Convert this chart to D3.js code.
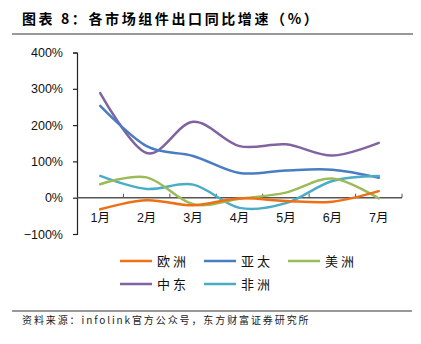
<!DOCTYPE html>
<html><head><meta charset="utf-8">
<script src="https://cdn.jsdelivr.net/npm/d3@7"></script>
<style>body{margin:0;background:#fff}svg{display:block}</style>
</head><body>
<script>
const months = ["1月","2月","3月","4月","5月","6月","7月"];
const seriesNames = ["欧洲","亚太","美洲","中东","非洲"];
const europe = [-32, -7, -21, -2, -9, -11, 18];
const asiaPac = [253, 142, 115, 68, 75, 77, 55];
const americas = [37, 56, -18, -3, 14, 53, -2];
const middleEast = [288, 123, 209, 142, 147, 116, 151];
const africa = [60, 24, 36, -28, -15, 46, 60];
const yTicks = [-100, 0, 100, 200, 300, 400];
const colors = ["#EF6F15", "#4A7CC2", "#9BBB59", "#8064A2", "#4BACC6"];
const allSeries = [europe, asiaPac, americas, middleEast, africa];

const W = 421, H = 344;
const svg = d3.select("body").append("svg").attr("width", W).attr("height", H);
const font = "'Liberation Sans', Arial, 'Noto Sans CJK SC', sans-serif";

// title
svg.append("text").attr("x", 22).attr("y", 24).attr("font-family", "'Noto Sans CJK SC', sans-serif")
  .attr("font-size", 14).attr("font-weight", "bold").attr("letter-spacing", 2.6).attr("fill", "#000")
  .text("图表 8：各市场组件出口同比增速（%）");
svg.append("line").attr("x1", 12).attr("x2", 413).attr("y1", 34).attr("y2", 34).attr("stroke", "#999").attr("stroke-width", 2);

const x = d3.scaleBand().domain(months).range([77, 402]);
const y = d3.scaleLinear().domain([-100, 400]).range([234, 52.5]);

// y axis
const yAxis = d3.axisLeft(y).tickValues(yTicks).tickSize(4).tickPadding(10)
  .tickFormat(d => (d < 0 ? "\u2212" + Math.abs(d) : d) + "%");
const gy = svg.append("g").attr("transform", "translate(77,0)").call(yAxis);
gy.selectAll("path,line").attr("stroke", "#222").attr("stroke-width", 1.2);
gy.selectAll("text").attr("font-family", font).attr("font-size", 12.5).attr("fill", "#111");

// x axis at 0 with tick marks at band boundaries
const gx = svg.append("g").attr("transform", `translate(0,${y(0)})`);
gx.append("line").attr("x1", 77).attr("x2", 402).attr("stroke", "#555").attr("stroke-width", 1.5);
const bounds = months.map(m => x(m) + x.bandwidth());
gx.selectAll("line.tk").data(bounds).join("line").attr("class", "tk")
  .attr("x1", d => d).attr("x2", d => d).attr("y1", 0).attr("y2", -4)
  .attr("stroke", "#555").attr("stroke-width", 1);
svg.append("g").selectAll("text").data(months).join("text")
  .attr("x", d => x(d) + x.bandwidth() / 2).attr("y", 222)
  .attr("text-anchor", "middle").attr("font-family", font).attr("font-size", 12.5).attr("fill", "#111")
  .text(d => d);

// lines
const line = d3.line().x((d, i) => x(months[i]) + x.bandwidth() / 2).y(d => y(d))
  .curve(d3.curveCatmullRom.alpha(0));
const drawOrder = [3, 1, 4, 2, 0];
drawOrder.forEach(k => {
  svg.append("path").datum(allSeries[k]).attr("d", line).attr("fill", "none")
    .attr("stroke", colors[k]).attr("stroke-width", 2.5).attr("stroke-linecap", "round");
});

// legend
const legPos = [[120, 261], [204, 261], [288, 261], [120, 284], [204, 284]];
seriesNames.forEach((n, k) => {
  const [lx, ly] = legPos[k];
  svg.append("line").attr("x1", lx).attr("x2", lx + 32).attr("y1", ly).attr("y2", ly)
    .attr("stroke", colors[k]).attr("stroke-width", 2.5);
  svg.append("text").attr("x", lx + 37).attr("y", ly + 5).attr("font-family", "'Noto Sans CJK SC', sans-serif")
    .attr("font-size", 13).attr("letter-spacing", 3).attr("fill", "#111").text(n);
});

// source
svg.append("line").attr("x1", 12).attr("x2", 412).attr("y1", 311).attr("y2", 311).attr("stroke", "#999").attr("stroke-width", 2);
svg.append("text").attr("x", 22).attr("y", 324).attr("font-family", "'Noto Sans CJK SC', sans-serif")
  .attr("font-size", 10).attr("letter-spacing", 1.9).attr("fill", "#222")
  .text("资料来源：infolink官方公众号，东方财富证券研究所");
</script>
</body></html>
